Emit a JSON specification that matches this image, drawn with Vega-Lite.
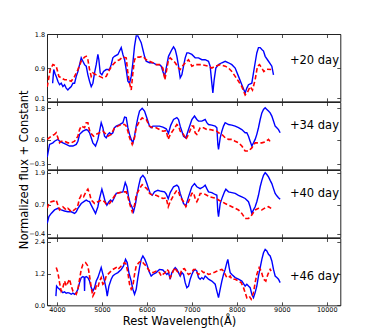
{
"$schema":"https://vega.github.io/schema/vega-lite/v6.json",
"autosize":{"type":"pad"},
"padding":{"left":18,"top":30,"right":5,"bottom":5},
"background":"white",
"bounds":"flush",
"spacing":0,
"config":{
 "view":{"stroke":"#222","strokeWidth":1},
 "axis":{"grid":false,"domain":false,"tickSize":-3.5,"tickColor":"#222","tickWidth":0.8,"labelFont":"DejaVu Sans","labelFontSize":6.5,"labelColor":"#000","titleFont":"DejaVu Sans","titleFontSize":11.5,"titleFontWeight":"normal","titleColor":"#000","labelFlush":false},
 "axisLeft":{"labelPadding":5.9},
 "axisBottom":{"labelPadding":4.6},
 "text":{"font":"DejaVu Sans"}
},
"datasets":{
"b1":[{"x":3905,"y":0.5},{"x":3930,"y":0.86},{"x":3960,"y":0.75},{"x":3985,"y":0.68},{"x":4022,"y":0.55},{"x":4059,"y":0.46},{"x":4096,"y":0.5},{"x":4133,"y":0.41},{"x":4170,"y":0.46},{"x":4207,"y":0.37},{"x":4244,"y":0.32},{"x":4281,"y":0.37},{"x":4319,"y":0.41},{"x":4356,"y":0.5},{"x":4393,"y":0.5},{"x":4430,"y":0.68},{"x":4467,"y":0.81},{"x":4504,"y":0.99},{"x":4541,"y":1.17},{"x":4578,"y":1.08},{"x":4615,"y":0.99},{"x":4652,"y":0.95},{"x":4689,"y":0.72},{"x":4726,"y":0.55},{"x":4763,"y":0.41},{"x":4800,"y":0.5},{"x":4837,"y":0.77},{"x":4874,"y":0.99},{"x":4911,"y":1.26},{"x":4933,"y":1.12},{"x":4963,"y":0.77},{"x":5000,"y":0.72},{"x":5037,"y":0.81},{"x":5096,"y":0.86},{"x":5170,"y":0.86},{"x":5207,"y":0.99},{"x":5244,"y":1.17},{"x":5281,"y":1.21},{"x":5356,"y":1.26},{"x":5393,"y":1.35},{"x":5430,"y":1.44},{"x":5467,"y":1.26},{"x":5504,"y":1.12},{"x":5541,"y":0.86},{"x":5578,"y":0.55},{"x":5615,"y":0.5},{"x":5652,"y":0.68},{"x":5689,"y":1.04},{"x":5726,"y":1.48},{"x":5763,"y":1.75},{"x":5800,"y":1.75},{"x":5837,"y":1.66},{"x":5874,"y":1.57},{"x":5911,"y":1.39},{"x":5948,"y":1.21},{"x":5985,"y":1.08},{"x":6059,"y":1.04},{"x":6133,"y":1.04},{"x":6207,"y":0.99},{"x":6281,"y":0.99},{"x":6319,"y":0.95},{"x":6356,"y":0.81},{"x":6393,"y":0.68},{"x":6430,"y":0.9},{"x":6481,"y":1.21},{"x":6556,"y":1.39},{"x":6593,"y":1.46},{"x":6630,"y":1.39},{"x":6667,"y":1.21},{"x":6704,"y":0.95},{"x":6741,"y":0.64},{"x":6778,"y":0.72},{"x":6815,"y":0.95},{"x":6852,"y":1.17},{"x":6889,"y":1.3},{"x":6926,"y":1.3},{"x":7000,"y":1.26},{"x":7074,"y":1.17},{"x":7148,"y":1.17},{"x":7222,"y":1.12},{"x":7296,"y":1.12},{"x":7370,"y":1.08},{"x":7407,"y":0.95},{"x":7444,"y":0.5},{"x":7467,"y":0.24},{"x":7496,"y":0.59},{"x":7533,"y":0.9},{"x":7593,"y":0.99},{"x":7667,"y":1.04},{"x":7741,"y":1.08},{"x":7815,"y":1.04},{"x":7889,"y":0.99},{"x":7963,"y":0.9},{"x":8037,"y":0.68},{"x":8111,"y":0.46},{"x":8185,"y":0.24},{"x":8222,"y":0.37},{"x":8259,"y":0.46},{"x":8333,"y":0.5},{"x":8370,"y":0.77},{"x":8407,"y":1.04},{"x":8444,"y":1.3},{"x":8481,"y":1.44},{"x":8519,"y":1.44},{"x":8556,"y":1.39},{"x":8593,"y":1.35},{"x":8630,"y":1.21},{"x":8704,"y":1.08},{"x":8778,"y":0.95},{"x":8815,"y":0.72}],
"r1":[{"x":3785,"y":0.4},{"x":3852,"y":0.86},{"x":3911,"y":0.99},{"x":3985,"y":0.95},{"x":4044,"y":0.68},{"x":4096,"y":0.64},{"x":4170,"y":0.59},{"x":4244,"y":0.59},{"x":4319,"y":0.55},{"x":4393,"y":0.68},{"x":4467,"y":0.86},{"x":4541,"y":1.08},{"x":4615,"y":1.19},{"x":4652,"y":1.21},{"x":4689,"y":1.12},{"x":4726,"y":0.86},{"x":4763,"y":0.68},{"x":4800,"y":0.77},{"x":4874,"y":0.72},{"x":4948,"y":0.68},{"x":5022,"y":0.64},{"x":5096,"y":0.68},{"x":5170,"y":0.86},{"x":5244,"y":0.99},{"x":5319,"y":1.08},{"x":5393,"y":1.12},{"x":5467,"y":1.19},{"x":5541,"y":1.17},{"x":5578,"y":0.77},{"x":5615,"y":0.5},{"x":5652,"y":0.32},{"x":5689,"y":0.77},{"x":5726,"y":1.12},{"x":5763,"y":1.19},{"x":5837,"y":1.19},{"x":5911,"y":1.21},{"x":5985,"y":1.12},{"x":6059,"y":1.08},{"x":6133,"y":1.04},{"x":6207,"y":0.99},{"x":6281,"y":0.99},{"x":6356,"y":0.9},{"x":6400,"y":0.59},{"x":6481,"y":1.12},{"x":6519,"y":1.17},{"x":6630,"y":1.04},{"x":6704,"y":0.9},{"x":6741,"y":0.86},{"x":6815,"y":0.99},{"x":6889,"y":1.08},{"x":6926,"y":1.12},{"x":7000,"y":0.95},{"x":7074,"y":0.99},{"x":7222,"y":0.99},{"x":7370,"y":0.95},{"x":7444,"y":0.9},{"x":7519,"y":0.95},{"x":7630,"y":0.99},{"x":7741,"y":0.95},{"x":7815,"y":0.9},{"x":7889,"y":0.81},{"x":7963,"y":0.68},{"x":8037,"y":0.55},{"x":8111,"y":0.41},{"x":8185,"y":0.19},{"x":8244,"y":0.28},{"x":8296,"y":0.41},{"x":8348,"y":0.32},{"x":8407,"y":0.59},{"x":8459,"y":0.95},{"x":8504,"y":0.99},{"x":8556,"y":0.9},{"x":8600,"y":0.81},{"x":8667,"y":0.87},{"x":8763,"y":0.86}],
"b2":[{"x":3785,"y":-0.05},{"x":3837,"y":0.43},{"x":3911,"y":0.49},{"x":3948,"y":0.55},{"x":4022,"y":0.62},{"x":4059,"y":0.55},{"x":4133,"y":0.49},{"x":4207,"y":0.43},{"x":4281,"y":0.37},{"x":4356,"y":0.37},{"x":4430,"y":0.43},{"x":4467,"y":0.55},{"x":4504,"y":0.81},{"x":4578,"y":0.93},{"x":4652,"y":0.99},{"x":4689,"y":0.96},{"x":4726,"y":0.87},{"x":4763,"y":0.68},{"x":4800,"y":0.49},{"x":4859,"y":0.37},{"x":4911,"y":0.62},{"x":4948,"y":0.93},{"x":4985,"y":1.25},{"x":5022,"y":1.06},{"x":5059,"y":0.74},{"x":5096,"y":0.68},{"x":5133,"y":0.81},{"x":5170,"y":0.87},{"x":5207,"y":0.81},{"x":5244,"y":0.87},{"x":5281,"y":1.06},{"x":5319,"y":1.12},{"x":5393,"y":1.18},{"x":5467,"y":1.25},{"x":5504,"y":1.46},{"x":5541,"y":1.44},{"x":5578,"y":1.06},{"x":5615,"y":0.81},{"x":5652,"y":0.62},{"x":5689,"y":0.49},{"x":5726,"y":0.74},{"x":5763,"y":1.12},{"x":5800,"y":1.44},{"x":5837,"y":1.69},{"x":5896,"y":1.79},{"x":5948,"y":1.69},{"x":5985,"y":1.5},{"x":6022,"y":1.31},{"x":6059,"y":1.12},{"x":6096,"y":1.06},{"x":6133,"y":1.12},{"x":6207,"y":1.12},{"x":6281,"y":1.12},{"x":6356,"y":1.08},{"x":6430,"y":1.02},{"x":6480,"y":0.85},{"x":6530,"y":1.15},{"x":6593,"y":1.37},{"x":6667,"y":1.44},{"x":6704,"y":1.37},{"x":6741,"y":1.12},{"x":6778,"y":0.93},{"x":6815,"y":0.74},{"x":6867,"y":0.68},{"x":6926,"y":0.99},{"x":7000,"y":1.37},{"x":7059,"y":1.5},{"x":7111,"y":1.37},{"x":7148,"y":1.31},{"x":7222,"y":1.31},{"x":7296,"y":1.37},{"x":7333,"y":1.25},{"x":7370,"y":1.18},{"x":7444,"y":1.16},{"x":7519,"y":1.12},{"x":7556,"y":1.06},{"x":7578,"y":0.43},{"x":7593,"y":0.24},{"x":7630,"y":0.68},{"x":7667,"y":0.93},{"x":7704,"y":1.12},{"x":7741,"y":1.25},{"x":7815,"y":1.18},{"x":7889,"y":1.16},{"x":7963,"y":1.12},{"x":8037,"y":1.06},{"x":8111,"y":0.99},{"x":8185,"y":0.87},{"x":8222,"y":0.87},{"x":8259,"y":0.74},{"x":8296,"y":0.55},{"x":8333,"y":0.37},{"x":8370,"y":0.49},{"x":8407,"y":0.62},{"x":8444,"y":0.81},{"x":8481,"y":1.06},{"x":8519,"y":1.37},{"x":8556,"y":1.62},{"x":8593,"y":1.75},{"x":8630,"y":1.81},{"x":8667,"y":1.75},{"x":8704,"y":1.69},{"x":8741,"y":1.62},{"x":8778,"y":1.5},{"x":8815,"y":1.31},{"x":8852,"y":1.12},{"x":8889,"y":1.06},{"x":8926,"y":0.99},{"x":8963,"y":0.87}],
"r2":[{"x":3785,"y":0.62},{"x":3874,"y":0.74},{"x":3948,"y":0.81},{"x":3985,"y":0.87},{"x":4022,"y":0.68},{"x":4059,"y":0.49},{"x":4096,"y":0.55},{"x":4170,"y":0.55},{"x":4244,"y":0.49},{"x":4319,"y":0.49},{"x":4393,"y":0.55},{"x":4467,"y":0.74},{"x":4504,"y":0.99},{"x":4541,"y":1.12},{"x":4615,"y":1.06},{"x":4652,"y":1.25},{"x":4689,"y":1.25},{"x":4711,"y":1.06},{"x":4741,"y":0.87},{"x":4778,"y":0.81},{"x":4815,"y":0.74},{"x":4874,"y":0.81},{"x":4948,"y":0.87},{"x":5022,"y":0.93},{"x":5096,"y":0.81},{"x":5133,"y":0.74},{"x":5207,"y":0.81},{"x":5281,"y":1.06},{"x":5356,"y":1.12},{"x":5430,"y":1.18},{"x":5504,"y":1.18},{"x":5541,"y":1.12},{"x":5578,"y":0.93},{"x":5615,"y":0.68},{"x":5674,"y":0.43},{"x":5726,"y":0.68},{"x":5763,"y":1.06},{"x":5837,"y":1.31},{"x":5896,"y":1.43},{"x":5948,"y":1.37},{"x":5985,"y":1.37},{"x":6059,"y":1.12},{"x":6133,"y":1.06},{"x":6207,"y":1.06},{"x":6281,"y":0.99},{"x":6356,"y":0.93},{"x":6430,"y":0.95},{"x":6475,"y":0.62},{"x":6519,"y":0.8},{"x":6593,"y":0.99},{"x":6667,"y":1.18},{"x":6704,"y":1.12},{"x":6741,"y":0.93},{"x":6815,"y":0.81},{"x":6867,"y":0.62},{"x":6926,"y":0.81},{"x":7000,"y":1.12},{"x":7037,"y":1.12},{"x":7074,"y":0.87},{"x":7111,"y":0.81},{"x":7148,"y":0.93},{"x":7185,"y":1.06},{"x":7259,"y":1.06},{"x":7333,"y":0.99},{"x":7407,"y":0.99},{"x":7481,"y":0.96},{"x":7556,"y":0.93},{"x":7593,"y":0.87},{"x":7667,"y":0.81},{"x":7741,"y":0.68},{"x":7815,"y":0.62},{"x":7889,"y":0.62},{"x":7963,"y":0.55},{"x":8037,"y":0.49},{"x":8111,"y":0.37},{"x":8185,"y":0.18},{"x":8259,"y":0.18},{"x":8333,"y":0.3},{"x":8407,"y":0.49},{"x":8481,"y":0.49},{"x":8556,"y":0.49},{"x":8630,"y":0.53},{"x":8704,"y":0.62},{"x":8763,"y":0.49}],
"b3":[{"x":3785,"y":0.0},{"x":3822,"y":0.25},{"x":3874,"y":0.37},{"x":3948,"y":0.5},{"x":4022,"y":0.56},{"x":4096,"y":0.5},{"x":4170,"y":0.46},{"x":4244,"y":0.43},{"x":4319,"y":0.43},{"x":4393,"y":0.37},{"x":4430,"y":0.43},{"x":4467,"y":0.56},{"x":4541,"y":0.74},{"x":4615,"y":0.83},{"x":4652,"y":0.87},{"x":4689,"y":0.83},{"x":4726,"y":0.81},{"x":4763,"y":0.68},{"x":4800,"y":0.56},{"x":4859,"y":0.37},{"x":4911,"y":0.62},{"x":4948,"y":0.93},{"x":5000,"y":1.28},{"x":5037,"y":1.05},{"x":5074,"y":0.81},{"x":5111,"y":0.68},{"x":5156,"y":0.81},{"x":5193,"y":0.87},{"x":5230,"y":0.81},{"x":5267,"y":0.93},{"x":5319,"y":1.12},{"x":5393,"y":1.15},{"x":5467,"y":1.18},{"x":5519,"y":1.53},{"x":5556,"y":1.37},{"x":5593,"y":0.99},{"x":5630,"y":0.74},{"x":5667,"y":0.62},{"x":5704,"y":0.43},{"x":5748,"y":0.74},{"x":5785,"y":1.12},{"x":5822,"y":1.43},{"x":5859,"y":1.7},{"x":5911,"y":1.8},{"x":5956,"y":1.7},{"x":6000,"y":1.49},{"x":6037,"y":1.3},{"x":6074,"y":1.12},{"x":6119,"y":1.05},{"x":6170,"y":1.18},{"x":6244,"y":1.24},{"x":6319,"y":1.2},{"x":6393,"y":1.18},{"x":6430,"y":1.1},{"x":6475,"y":0.92},{"x":6519,"y":1.15},{"x":6593,"y":1.37},{"x":6667,"y":1.43},{"x":6704,"y":1.37},{"x":6741,"y":1.12},{"x":6778,"y":0.93},{"x":6815,"y":0.74},{"x":6867,"y":0.66},{"x":6926,"y":0.99},{"x":7000,"y":1.37},{"x":7059,"y":1.49},{"x":7111,"y":1.37},{"x":7185,"y":1.3},{"x":7259,"y":1.37},{"x":7296,"y":1.43},{"x":7333,"y":1.3},{"x":7370,"y":1.18},{"x":7444,"y":1.15},{"x":7519,"y":1.08},{"x":7556,"y":1.05},{"x":7578,"y":0.43},{"x":7593,"y":0.25},{"x":7630,"y":0.74},{"x":7681,"y":0.99},{"x":7726,"y":1.18},{"x":7756,"y":1.28},{"x":7815,"y":1.18},{"x":7889,"y":1.15},{"x":7963,"y":1.12},{"x":8037,"y":1.05},{"x":8111,"y":0.99},{"x":8185,"y":0.93},{"x":8259,"y":0.81},{"x":8296,"y":0.62},{"x":8333,"y":0.37},{"x":8370,"y":0.5},{"x":8407,"y":0.62},{"x":8444,"y":0.81},{"x":8481,"y":1.05},{"x":8519,"y":1.37},{"x":8556,"y":1.61},{"x":8593,"y":1.8},{"x":8630,"y":1.9},{"x":8667,"y":1.83},{"x":8704,"y":1.74},{"x":8741,"y":1.61},{"x":8778,"y":1.49},{"x":8815,"y":1.3},{"x":8852,"y":1.12},{"x":8889,"y":1.03},{"x":8926,"y":0.96},{"x":8963,"y":0.9}],
"r3":[{"x":3785,"y":0.56},{"x":3822,"y":0.74},{"x":3874,"y":0.81},{"x":3948,"y":0.84},{"x":3985,"y":0.87},{"x":4022,"y":0.68},{"x":4059,"y":0.5},{"x":4096,"y":0.56},{"x":4133,"y":0.62},{"x":4170,"y":0.56},{"x":4207,"y":0.5},{"x":4244,"y":0.56},{"x":4281,"y":0.5},{"x":4319,"y":0.43},{"x":4356,"y":0.46},{"x":4430,"y":0.56},{"x":4467,"y":0.68},{"x":4504,"y":0.93},{"x":4541,"y":1.05},{"x":4593,"y":0.99},{"x":4652,"y":1.2},{"x":4689,"y":1.28},{"x":4726,"y":1.12},{"x":4763,"y":0.87},{"x":4800,"y":0.81},{"x":4837,"y":0.74},{"x":4911,"y":0.81},{"x":4985,"y":0.87},{"x":5059,"y":0.81},{"x":5096,"y":0.71},{"x":5170,"y":0.74},{"x":5244,"y":0.93},{"x":5319,"y":1.12},{"x":5393,"y":1.15},{"x":5467,"y":1.18},{"x":5541,"y":1.18},{"x":5578,"y":0.99},{"x":5615,"y":0.74},{"x":5674,"y":0.43},{"x":5726,"y":0.68},{"x":5763,"y":1.05},{"x":5837,"y":1.3},{"x":5896,"y":1.45},{"x":5948,"y":1.37},{"x":6000,"y":1.3},{"x":6059,"y":1.12},{"x":6133,"y":1.05},{"x":6207,"y":1.05},{"x":6281,"y":0.99},{"x":6356,"y":0.93},{"x":6430,"y":0.95},{"x":6475,"y":0.62},{"x":6519,"y":0.81},{"x":6593,"y":1.05},{"x":6667,"y":1.24},{"x":6704,"y":1.18},{"x":6741,"y":0.99},{"x":6815,"y":0.81},{"x":6867,"y":0.62},{"x":6926,"y":0.81},{"x":7000,"y":1.12},{"x":7037,"y":1.15},{"x":7074,"y":0.93},{"x":7111,"y":0.81},{"x":7148,"y":0.93},{"x":7185,"y":1.12},{"x":7259,"y":1.12},{"x":7333,"y":1.05},{"x":7407,"y":0.99},{"x":7481,"y":0.96},{"x":7556,"y":0.93},{"x":7593,"y":0.87},{"x":7667,"y":0.81},{"x":7741,"y":0.74},{"x":7815,"y":0.68},{"x":7889,"y":0.62},{"x":7963,"y":0.56},{"x":8037,"y":0.5},{"x":8111,"y":0.37},{"x":8185,"y":0.18},{"x":8259,"y":0.18},{"x":8333,"y":0.31},{"x":8407,"y":0.5},{"x":8481,"y":0.56},{"x":8556,"y":0.5},{"x":8630,"y":0.58},{"x":8704,"y":0.62},{"x":8763,"y":0.56}],
"b4":[{"x":3978,"y":0.35},{"x":3993,"y":0.73},{"x":4022,"y":0.67},{"x":4059,"y":0.61},{"x":4096,"y":0.54},{"x":4133,"y":0.48},{"x":4170,"y":0.51},{"x":4207,"y":0.46},{"x":4244,"y":0.48},{"x":4281,"y":0.46},{"x":4319,"y":0.42},{"x":4356,"y":0.46},{"x":4393,"y":0.42},{"x":4430,"y":0.48},{"x":4467,"y":0.61},{"x":4504,"y":0.86},{"x":4541,"y":1.05},{"x":4578,"y":1.09},{"x":4607,"y":1.06},{"x":4615,"y":0.54},{"x":4622,"y":1.06},{"x":4652,"y":1.09},{"x":4689,"y":1.05},{"x":4726,"y":0.92},{"x":4763,"y":0.67},{"x":4800,"y":0.54},{"x":4837,"y":0.67},{"x":4874,"y":0.92},{"x":4911,"y":1.05},{"x":4948,"y":1.24},{"x":4985,"y":1.43},{"x":5022,"y":1.18},{"x":5059,"y":0.92},{"x":5096,"y":0.61},{"x":5119,"y":0.35},{"x":5156,"y":0.73},{"x":5207,"y":0.99},{"x":5244,"y":1.11},{"x":5281,"y":1.17},{"x":5356,"y":1.24},{"x":5430,"y":1.36},{"x":5481,"y":1.49},{"x":5526,"y":1.74},{"x":5563,"y":1.62},{"x":5600,"y":1.24},{"x":5652,"y":0.92},{"x":5689,"y":0.61},{"x":5726,"y":0.42},{"x":5763,"y":0.61},{"x":5800,"y":1.05},{"x":5837,"y":1.43},{"x":5874,"y":1.74},{"x":5911,"y":1.87},{"x":5956,"y":1.74},{"x":6000,"y":1.55},{"x":6044,"y":1.3},{"x":6096,"y":1.11},{"x":6133,"y":1.17},{"x":6207,"y":1.24},{"x":6281,"y":1.36},{"x":6356,"y":1.34},{"x":6407,"y":1.24},{"x":6444,"y":1.17},{"x":6481,"y":1.24},{"x":6519,"y":0.99},{"x":6556,"y":1.24},{"x":6630,"y":1.43},{"x":6667,"y":1.36},{"x":6704,"y":1.24},{"x":6741,"y":1.11},{"x":6778,"y":1.24},{"x":6815,"y":1.17},{"x":6852,"y":0.86},{"x":6889,"y":0.67},{"x":6926,"y":0.73},{"x":6963,"y":0.99},{"x":7000,"y":1.17},{"x":7037,"y":1.3},{"x":7074,"y":1.36},{"x":7111,"y":1.3},{"x":7148,"y":1.05},{"x":7185,"y":0.99},{"x":7222,"y":1.05},{"x":7259,"y":0.99},{"x":7296,"y":1.11},{"x":7333,"y":1.05},{"x":7370,"y":0.99},{"x":7444,"y":0.92},{"x":7519,"y":0.8},{"x":7556,"y":0.54},{"x":7593,"y":0.29},{"x":7630,"y":0.61},{"x":7667,"y":0.92},{"x":7704,"y":1.17},{"x":7741,"y":1.36},{"x":7778,"y":1.62},{"x":7800,"y":1.74},{"x":7830,"y":1.43},{"x":7852,"y":1.24},{"x":7889,"y":1.17},{"x":7963,"y":1.05},{"x":8037,"y":0.99},{"x":8111,"y":0.92},{"x":8185,"y":0.73},{"x":8222,"y":0.8},{"x":8259,"y":0.73},{"x":8296,"y":0.67},{"x":8333,"y":0.42},{"x":8370,"y":0.29},{"x":8407,"y":0.48},{"x":8444,"y":0.73},{"x":8481,"y":1.11},{"x":8519,"y":1.43},{"x":8556,"y":1.74},{"x":8593,"y":1.99},{"x":8630,"y":2.12},{"x":8667,"y":2.06},{"x":8704,"y":1.93},{"x":8741,"y":1.87},{"x":8778,"y":1.68},{"x":8815,"y":1.36},{"x":8852,"y":1.11},{"x":8889,"y":1.05},{"x":8926,"y":0.99},{"x":8963,"y":0.86}],
"r4":[{"x":3985,"y":1.43},{"x":4022,"y":1.24},{"x":4059,"y":0.86},{"x":4096,"y":0.54},{"x":4133,"y":0.67},{"x":4170,"y":0.92},{"x":4207,"y":0.73},{"x":4244,"y":0.86},{"x":4281,"y":0.99},{"x":4319,"y":0.73},{"x":4356,"y":0.54},{"x":4393,"y":0.48},{"x":4430,"y":0.42},{"x":4467,"y":0.61},{"x":4504,"y":0.99},{"x":4541,"y":1.36},{"x":4578,"y":1.55},{"x":4637,"y":1.62},{"x":4689,"y":1.49},{"x":4726,"y":1.11},{"x":4763,"y":0.67},{"x":4800,"y":0.35},{"x":4837,"y":0.48},{"x":4874,"y":0.73},{"x":4911,"y":0.67},{"x":4948,"y":0.92},{"x":4985,"y":1.05},{"x":5022,"y":0.8},{"x":5059,"y":0.86},{"x":5096,"y":1.11},{"x":5170,"y":1.24},{"x":5244,"y":1.36},{"x":5319,"y":1.43},{"x":5356,"y":1.36},{"x":5430,"y":1.49},{"x":5504,"y":1.62},{"x":5541,"y":1.55},{"x":5578,"y":1.24},{"x":5615,"y":0.8},{"x":5652,"y":0.61},{"x":5689,"y":0.73},{"x":5726,"y":1.17},{"x":5763,"y":1.49},{"x":5822,"y":1.62},{"x":5874,"y":1.68},{"x":5911,"y":1.62},{"x":5948,"y":1.55},{"x":5985,"y":1.49},{"x":6059,"y":1.3},{"x":6133,"y":1.24},{"x":6207,"y":1.3},{"x":6281,"y":1.24},{"x":6319,"y":1.11},{"x":6356,"y":1.17},{"x":6407,"y":1.24},{"x":6444,"y":1.36},{"x":6481,"y":1.3},{"x":6519,"y":1.05},{"x":6556,"y":1.17},{"x":6615,"y":1.43},{"x":6667,"y":1.3},{"x":6741,"y":1.17},{"x":6778,"y":1.36},{"x":6837,"y":1.39},{"x":6889,"y":1.24},{"x":6926,"y":1.17},{"x":7000,"y":1.24},{"x":7037,"y":1.36},{"x":7074,"y":1.36},{"x":7111,"y":1.24},{"x":7148,"y":1.17},{"x":7222,"y":1.3},{"x":7259,"y":1.24},{"x":7296,"y":1.26},{"x":7370,"y":1.17},{"x":7444,"y":1.21},{"x":7519,"y":1.26},{"x":7593,"y":1.33},{"x":7667,"y":1.36},{"x":7704,"y":1.3},{"x":7741,"y":1.17},{"x":7778,"y":1.05},{"x":7815,"y":1.05},{"x":7852,"y":1.11},{"x":7889,"y":0.99},{"x":7963,"y":0.99},{"x":8037,"y":0.92},{"x":8096,"y":0.86},{"x":8148,"y":0.67},{"x":8185,"y":0.48},{"x":8222,"y":0.29},{"x":8274,"y":0.35},{"x":8318,"y":0.23},{"x":8370,"y":0.48},{"x":8407,"y":0.86},{"x":8444,"y":1.17},{"x":8496,"y":1.43},{"x":8541,"y":1.3},{"x":8593,"y":0.99},{"x":8644,"y":0.92},{"x":8689,"y":1.17},{"x":8741,"y":1.36},{"x":8763,"y":1.3}]
},
"vconcat":[
{"width":293.3,"height":67.35,
 "layer":[
  {"data":{"name":"b1"},"mark":{"type":"line","color":"#0000ff","strokeWidth":1.4,"clip":true},
   "encoding":{"x":{"field":"x","type":"quantitative","scale":{"domain":[3780,10300],"nice":false,"zero":false},"axis":{"orient":"bottom","values":[4000,5000,6000,7000,8000,9000,10000],"labels":false,"title":null}},
    "y":{"field":"y","type":"quantitative","scale":{"domain":[0.02,1.8],"nice":false,"zero":false},"axis":{"orient":"left","values":[0.1,0.9,1.8],"format":".1f","title":null}}}},
  {"data":{"name":"r1"},"mark":{"type":"line","color":"#ff0000","strokeWidth":1.6,"strokeDash":[4.5,2.5],"clip":true},
   "encoding":{"x":{"field":"x","type":"quantitative","scale":{"domain":[3780,10300],"nice":false,"zero":false},"axis":{"orient":"top","values":[4000,5000,6000,7000,8000,9000,10000],"labels":false,"title":null}},
    "y":{"field":"y","type":"quantitative","scale":{"domain":[0.02,1.8],"nice":false,"zero":false},"axis":{"orient":"right","values":[0.1,0.9,1.8],"labels":false,"title":null}}}},
  {"data":{"values":[{}]},"mark":{"type":"text","align":"left","baseline":"middle","fontSize":11.5,"color":"#000"},
   "encoding":{"x":{"datum":9180,"type":"quantitative","axis":null},"y":{"datum":1.09,"type":"quantitative","axis":null},"text":{"value":"+20 day"}}}
 ],
 "resolve":{"axis":{"x":"independent","y":"independent"}}
},
{"width":293.3,"height":67.35,
 "layer":[
  {"data":{"name":"b2"},"mark":{"type":"line","color":"#0000ff","strokeWidth":1.4,"clip":true},
   "encoding":{"x":{"field":"x","type":"quantitative","scale":{"domain":[3780,10300],"nice":false,"zero":false},"axis":{"orient":"bottom","values":[4000,5000,6000,7000,8000,9000,10000],"labels":false,"title":null}},
    "y":{"field":"y","type":"quantitative","scale":{"domain":[-0.51,2.03],"nice":false,"zero":false},"axis":{"orient":"left","values":[-0.3,0.6,1.8],"format":".1f","title":"Normalized flux + Constant","titleX":-19,"titleY":67.35,"titleAlign":"center","titleBaseline":"alphabetic","titleAngle":270}}}},
  {"data":{"name":"r2"},"mark":{"type":"line","color":"#ff0000","strokeWidth":1.6,"strokeDash":[4.5,2.5],"clip":true},
   "encoding":{"x":{"field":"x","type":"quantitative","scale":{"domain":[3780,10300],"nice":false,"zero":false},"axis":{"orient":"top","values":[4000,5000,6000,7000,8000,9000,10000],"labels":false,"title":null}},
    "y":{"field":"y","type":"quantitative","scale":{"domain":[-0.51,2.03],"nice":false,"zero":false},"axis":{"orient":"right","values":[-0.3,0.6,1.8],"labels":false,"title":null}}}},
  {"data":{"values":[{}]},"mark":{"type":"text","align":"left","baseline":"middle","fontSize":11.5,"color":"#000"},
   "encoding":{"x":{"datum":9180,"type":"quantitative","axis":null},"y":{"datum":1.12,"type":"quantitative","axis":null},"text":{"value":"+34 day"}}}
 ],
 "resolve":{"axis":{"x":"independent","y":"independent"}}
},
{"width":293.3,"height":67.35,
 "layer":[
  {"data":{"name":"b3"},"mark":{"type":"line","color":"#0000ff","strokeWidth":1.4,"clip":true},
   "encoding":{"x":{"field":"x","type":"quantitative","scale":{"domain":[3780,10300],"nice":false,"zero":false},"axis":{"orient":"bottom","values":[4000,5000,6000,7000,8000,9000,10000],"labels":false,"title":null}},
    "y":{"field":"y","type":"quantitative","scale":{"domain":[-0.53,2.0],"nice":false,"zero":false},"axis":{"orient":"left","values":[-0.4,0.7,1.9],"format":".1f","title":null}}}},
  {"data":{"name":"r3"},"mark":{"type":"line","color":"#ff0000","strokeWidth":1.6,"strokeDash":[4.5,2.5],"clip":true},
   "encoding":{"x":{"field":"x","type":"quantitative","scale":{"domain":[3780,10300],"nice":false,"zero":false},"axis":{"orient":"top","values":[4000,5000,6000,7000,8000,9000,10000],"labels":false,"title":null}},
    "y":{"field":"y","type":"quantitative","scale":{"domain":[-0.53,2.0],"nice":false,"zero":false},"axis":{"orient":"right","values":[-0.4,0.7,1.9],"labels":false,"title":null}}}},
  {"data":{"values":[{}]},"mark":{"type":"text","align":"left","baseline":"middle","fontSize":11.5,"color":"#000"},
   "encoding":{"x":{"datum":9180,"type":"quantitative","axis":null},"y":{"datum":1.09,"type":"quantitative","axis":null},"text":{"value":"+40 day"}}}
 ],
 "resolve":{"axis":{"x":"independent","y":"independent"}}
},
{"width":293.3,"height":67.35,
 "layer":[
  {"data":{"name":"b4"},"mark":{"type":"line","color":"#0000ff","strokeWidth":1.4,"clip":true},
   "encoding":{"x":{"field":"x","type":"quantitative","scale":{"domain":[3780,10300],"nice":false,"zero":false},"axis":{"orient":"bottom","values":[4000,5000,6000,7000,8000,9000,10000],"format":"d","labels":true,"title":"Rest Wavelength(Å)","titleX":132,"titleY":19.5,"titleAlign":"center","titleBaseline":"alphabetic"}},
    "y":{"field":"y","type":"quantitative","scale":{"domain":[0.0,2.55],"nice":false,"zero":false},"axis":{"orient":"left","values":[0.0,1.2,2.4],"format":".1f","title":null}}}},
  {"data":{"name":"r4"},"mark":{"type":"line","color":"#ff0000","strokeWidth":1.6,"strokeDash":[4.5,2.5],"clip":true},
   "encoding":{"x":{"field":"x","type":"quantitative","scale":{"domain":[3780,10300],"nice":false,"zero":false},"axis":{"orient":"top","values":[4000,5000,6000,7000,8000,9000,10000],"labels":false,"title":null}},
    "y":{"field":"y","type":"quantitative","scale":{"domain":[0.0,2.55],"nice":false,"zero":false},"axis":{"orient":"right","values":[0.0,1.2,2.4],"labels":false,"title":null}}}},
  {"data":{"values":[{}]},"mark":{"type":"text","align":"left","baseline":"middle","fontSize":11.5,"color":"#000"},
   "encoding":{"x":{"datum":9180,"type":"quantitative","axis":null},"y":{"datum":1.06,"type":"quantitative","axis":null},"text":{"value":"+46 day"}}}
 ],
 "resolve":{"axis":{"x":"independent","y":"independent"}}
}
]
}
